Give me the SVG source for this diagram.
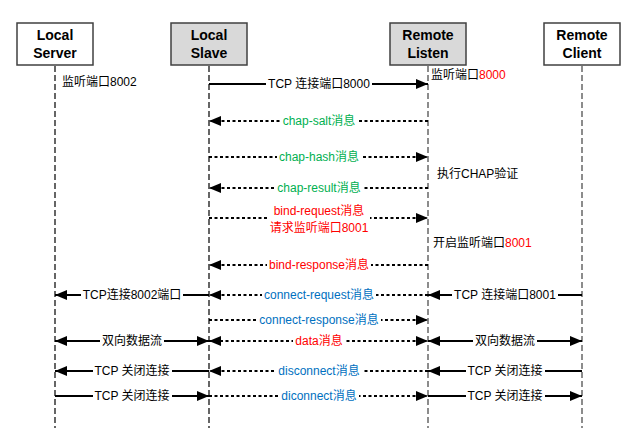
<svg xmlns="http://www.w3.org/2000/svg" width="636" height="428" viewBox="0 0 636 428">
<style>
text{font-family:"Liberation Sans","Noto Sans CJK SC",sans-serif;font-size:12px;fill:#000}
.hd{font-size:14px;font-weight:bold;text-anchor:middle}
.box{stroke:#404040;stroke-width:1.5}
.ll{fill:none;stroke:#000;stroke-width:1.2;stroke-dasharray:6,3}
.llg{fill:none;stroke:#808080;stroke-width:1.8;stroke-dasharray:6,3}
.s{fill:none;stroke:#000;stroke-width:2}
.d{fill:none;stroke:#000;stroke-width:2;stroke-dasharray:3,2.5}
.bg{fill:#fff}
.c{text-anchor:middle}
.g{fill:#00b050}
.r{fill:#ff0000}
.b{fill:#0070c0}
</style>
<defs>
<marker id="ah" viewBox="0 0 12 10" refX="12" refY="5" markerWidth="12" markerHeight="10" markerUnits="userSpaceOnUse" orient="auto-start-reverse"><path d="M0,0 L12,5 L0,10 z" fill="#000"/></marker>
</defs>
<rect width="636" height="428" fill="#fff"/>
<g id="local-server">
<line class="ll" x1="55" y1="66" x2="55" y2="428"/>
<rect class="box" x="17" y="23" width="76" height="42" fill="#fff"/>
<text class="hd" x="55" y="40">Local</text>
<text class="hd" x="55" y="58">Server</text>
</g>
<g id="local-slave">
<line class="ll" x1="209" y1="66" x2="209" y2="428"/>
<rect class="box" x="171" y="23" width="76" height="42" fill="#d9d9d9"/>
<text class="hd" x="209" y="40">Local</text>
<text class="hd" x="209" y="58">Slave</text>
</g>
<g id="remote-listen">
<line class="llg" x1="428" y1="66" x2="428" y2="428"/>
<rect class="box" x="390" y="23" width="76" height="42" fill="#d9d9d9"/>
<text class="hd" x="428" y="40">Remote</text>
<text class="hd" x="428" y="58">Listen</text>
</g>
<g id="remote-client">
<line class="llg" x1="582" y1="66" x2="582" y2="428"/>
<rect class="box" x="544" y="23" width="76" height="42" fill="#fff"/>
<text class="hd" x="582" y="40">Remote</text>
<text class="hd" x="582" y="58">Client</text>
</g>
<g id="connectors">
<path class="s" d="M209,84 H428" marker-end="url(#ah)"/>
<path class="d" d="M428,121 H209" marker-end="url(#ah)"/>
<path class="d" d="M209,157 H428" marker-end="url(#ah)"/>
<path class="d" d="M428,188 H209" marker-end="url(#ah)"/>
<path class="d" d="M209,218 H428" marker-end="url(#ah)"/>
<path class="d" d="M428,265 H209" marker-end="url(#ah)"/>
<path class="d" d="M428,295 H209" marker-end="url(#ah)"/>
<path class="s" d="M209,295 H55" marker-end="url(#ah)"/>
<path class="s" d="M582,295 H428" marker-end="url(#ah)"/>
<path class="d" d="M209,320 H428" marker-end="url(#ah)"/>
<path class="d" d="M209,341 H428" marker-start="url(#ah)" marker-end="url(#ah)"/>
<path class="s" d="M55,341 H209" marker-start="url(#ah)" marker-end="url(#ah)"/>
<path class="s" d="M428,341 H582" marker-start="url(#ah)" marker-end="url(#ah)"/>
<path class="d" d="M428,371 H209" marker-end="url(#ah)"/>
<path class="s" d="M209,371 H55" marker-end="url(#ah)"/>
<path class="s" d="M582,371 H428" marker-end="url(#ah)"/>
<path class="d" d="M209,396 H428" marker-end="url(#ah)"/>
<path class="s" d="M55,396 H209" marker-end="url(#ah)"/>
<path class="s" d="M428,396 H582" marker-end="url(#ah)"/>
</g>
<g id="labels">
<rect class="bg" x="266" y="76" width="106" height="16"/>
<text class="c" x="319" y="88">TCP 连接端口8000</text>
<rect class="bg" x="281" y="113" width="77" height="16"/>
<text class="c g" x="319" y="125">chap-salt消息</text>
<rect class="bg" x="277" y="149" width="84" height="16"/>
<text class="c g" x="319" y="161">chap-hash消息</text>
<rect class="bg" x="275" y="180" width="88" height="16"/>
<text class="c g" x="319" y="192">chap-result消息</text>
<rect class="bg" x="268" y="202" width="102" height="34"/>
<text class="c r" x="319" y="215">bind-request消息</text>
<text class="c r" x="319" y="232">请求监听端口8001</text>
<rect class="bg" x="267" y="257" width="104" height="16"/>
<text class="c r" x="319" y="269">bind-response消息</text>
<rect class="bg" x="81" y="287" width="102" height="16"/>
<text class="c" x="132" y="299">TCP连接8002端口</text>
<rect class="bg" x="262" y="287" width="114" height="16"/>
<text class="c b" x="319" y="299">connect-request消息</text>
<rect class="bg" x="452" y="287" width="106" height="16"/>
<text class="c" x="505" y="299">TCP 连接端口8001</text>
<rect class="bg" x="257" y="312" width="124" height="16"/>
<text class="c b" x="319" y="324">connect-response消息</text>
<rect class="bg" x="100" y="333" width="64" height="16"/>
<text class="c" x="132" y="345">双向数据流</text>
<rect class="bg" x="293" y="333" width="52" height="16"/>
<text class="c r" x="319" y="345">data消息</text>
<rect class="bg" x="473" y="333" width="64" height="16"/>
<text class="c" x="505" y="345">双向数据流</text>
<rect class="bg" x="93" y="363" width="79" height="16"/>
<text class="c" x="132" y="375">TCP 关闭连接</text>
<rect class="bg" x="276" y="363" width="86" height="16"/>
<text class="c b" x="319" y="375">disconnect消息</text>
<rect class="bg" x="466" y="363" width="79" height="16"/>
<text class="c" x="505" y="375">TCP 关闭连接</text>
<rect class="bg" x="93" y="388" width="79" height="16"/>
<text class="c" x="132" y="400">TCP 关闭连接</text>
<rect class="bg" x="279" y="388" width="80" height="16"/>
<text class="c b" x="319" y="400">diconnect消息</text>
<rect class="bg" x="466" y="388" width="79" height="16"/>
<text class="c" x="505" y="400">TCP 关闭连接</text>
</g>
<g id="notes">
<text x="62" y="86">监听端口8002</text>
<text x="431" y="79">监听端口<tspan class="r">8000</tspan></text>
<text x="437" y="178">执行CHAP验证</text>
<text x="433" y="247">开启监听端口<tspan class="r">8001</tspan></text>
</g>
</svg>
